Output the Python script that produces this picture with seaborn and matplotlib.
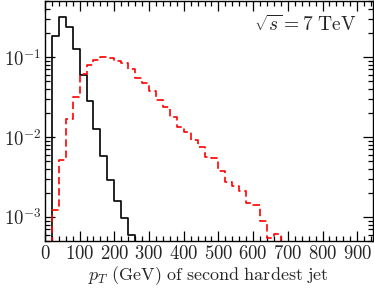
import numpy as np
import pandas as pd
import matplotlib
matplotlib.use("Agg")
import matplotlib.pyplot as plt
import seaborn as sns
from matplotlib.ticker import MultipleLocator, FuncFormatter, LogLocator

# bin edges (GeV) and per-bin fractions
bin_width = 20
black_vals = [0.0, 0.185, 0.32, 0.237, 0.125, 0.059, 0.028, 0.0127, 0.0058,
              0.0029, 0.0016, 0.00097, 0.00059, 0.0]
red_vals = [0.0, 0.00124, 0.00515, 0.0169, 0.0312, 0.0611, 0.079, 0.093,
            0.100, 0.097, 0.090, 0.0836, 0.070, 0.0546, 0.0473, 0.0377,
            0.0292, 0.0236, 0.0177, 0.0133, 0.0115, 0.0091, 0.00753,
            0.00561, 0.0054, 0.00377, 0.00276, 0.00242, 0.00214, 0.00148,
            0.00143, 0.00089, 0.00054, 0.00061, 0.0]
x_max = 945
x_major = [0, 100, 200, 300, 400, 500, 600, 700, 800, 900]


def step_frame(vals):
    # left edges + a last point out to the axis end (steps-post)
    x = [i * bin_width for i in range(len(vals))] + [x_max + 20]
    y = list(vals) + [0.0]
    return pd.DataFrame({"pt": x, "frac": y})


sns.set_theme(style="ticks")
plt.rcParams["mathtext.fontset"] = "cm"
plt.rcParams["font.family"] = ["DejaVu Serif"]
plt.rcParams["xtick.direction"] = "in"
plt.rcParams["ytick.direction"] = "in"

fig, ax = plt.subplots(figsize=(3.74, 2.88), dpi=100)
fig.subplots_adjust(left=0.12, right=0.997, top=0.996, bottom=0.163)

sns.lineplot(data=step_frame(black_vals), x="pt", y="frac", ax=ax,
             color="black", lw=1.2, drawstyle="steps-post",
             estimator=None, sort=False)
sns.lineplot(data=step_frame(red_vals), x="pt", y="frac", ax=ax,
             color="#ff0000", lw=1.2, drawstyle="steps-post",
             linestyle=(0, (4.4, 2.3)), estimator=None, sort=False)

ax.set_yscale("log")
ax.set_xlim(0, x_max)
ax.set_ylim(5e-4, 0.5)

ax.set_xticks(x_major)
ax.xaxis.set_minor_locator(MultipleLocator(20))
ax.xaxis.set_major_formatter(FuncFormatter(lambda v, p: r"$%d$" % v))
ax.yaxis.set_major_locator(LogLocator(base=10, numticks=10))
ax.yaxis.set_minor_locator(LogLocator(base=10, subs=np.arange(2, 10), numticks=10))
ax.yaxis.set_major_formatter(FuncFormatter(lambda v, p: r"$10^{%d}$" % round(np.log10(v))))

ax.tick_params(which="both", top=True, right=True, labelsize=13.5, pad=2.5,
               color="black", width=0.9)
ax.tick_params(which="major", length=7)
ax.tick_params(which="minor", length=3.5)
for s in ax.spines.values():
    s.set_linewidth(1.0)
    s.set_color("black")

ax.set_xlabel(r"$p_T\ \mathrm{(GeV)\ of\ second\ hardest\ jet}$", fontsize=13, labelpad=1)
ax.set_ylabel("")
ax.text(0.95, 0.9, r"$\sqrt{s}=7\ \mathrm{TeV}$", transform=ax.transAxes,
        ha="right", va="center", fontsize=14)

fig.savefig("out.png", dpi=100)
